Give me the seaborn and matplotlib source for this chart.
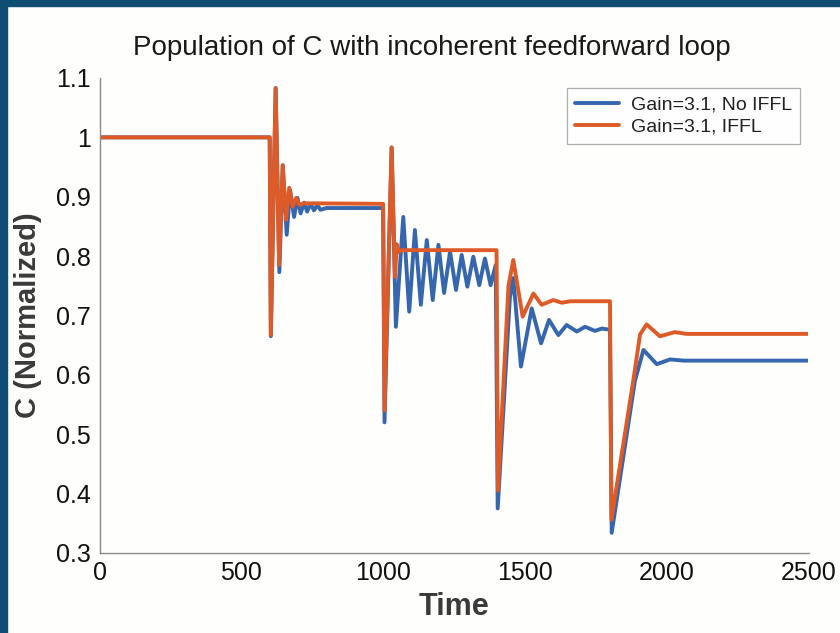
import numpy as np
import pandas as pd
import matplotlib
matplotlib.use("Agg")
import matplotlib.pyplot as plt
from matplotlib.patches import Rectangle
import seaborn as sns

# ---------------- data ----------------
t_no_iffl = [0, 600, 604, 621, 634, 646, 660, 672, 686, 698, 709, 721, 732, 744,
             756, 768, 779, 800, 1000, 1005, 1030, 1045, 1071, 1092, 1112, 1133,
             1154, 1175, 1195, 1215, 1236, 1257, 1277, 1297, 1318, 1339, 1359,
             1379, 1397, 1404, 1447, 1459, 1486, 1524, 1557, 1585, 1618, 1647,
             1683, 1712, 1747, 1771, 1800, 1806, 1888, 1918, 1965, 2012, 2060, 2500]
c_no_iffl = [1.0, 1.0, 0.665, 1.083, 0.773, 0.953, 0.836, 0.911, 0.866, 0.898,
             0.872, 0.890, 0.875, 0.888, 0.877, 0.886, 0.878, 0.881, 0.881, 0.520,
             0.983, 0.681, 0.866, 0.7065, 0.844, 0.718, 0.827, 0.726, 0.819, 0.738,
             0.8075, 0.743, 0.802, 0.7485, 0.799, 0.751, 0.796, 0.751, 0.785, 0.375,
             0.73, 0.763, 0.614, 0.712, 0.653, 0.6925, 0.667, 0.684, 0.673, 0.681,
             0.674, 0.678, 0.676, 0.334, 0.59, 0.642, 0.618, 0.626, 0.624, 0.624]

t_iffl = [0, 600, 604, 621, 633, 646, 658, 669, 681, 693, 705, 720, 1000, 1005,
          1030, 1042, 1048, 1055, 1065, 1400, 1405, 1442, 1459, 1492, 1530, 1559,
          1600, 1630, 1660, 1800, 1805, 1882, 1906, 1929, 1976, 2029, 2070, 2500]
c_iffl = [1.0, 1.0, 0.667, 1.083, 0.785, 0.953, 0.861, 0.915, 0.883, 0.898, 0.886,
          0.889, 0.888, 0.540, 0.983, 0.765, 0.820, 0.807, 0.810, 0.810, 0.405,
          0.750, 0.7935, 0.698, 0.737, 0.718, 0.726, 0.7215, 0.724, 0.724, 0.356,
          0.590, 0.668, 0.685, 0.665, 0.672, 0.669, 0.669]

series_names = ["Gain=3.1, No IFFL", "Gain=3.1, IFFL"]
x_ticks = [0, 500, 1000, 1500, 2000, 2500]
x_tick_labels = ["0", "500", "1000", "1500", "2000", "2500"]
y_ticks = [0.3, 0.4, 0.5, 0.6, 0.7, 0.8, 0.9, 1.0, 1.1]
y_tick_labels = ["0.3", "0.4", "0.5", "0.6", "0.7", "0.8", "0.9", "1", "1.1"]

df = pd.concat([
    pd.DataFrame({"Time": t_no_iffl, "C": c_no_iffl, "series": series_names[0]}),
    pd.DataFrame({"Time": t_iffl, "C": c_iffl, "series": series_names[1]}),
], ignore_index=True)

# ---------------- style ----------------
sns.set_theme(style="white")
plt.rcParams["font.family"] = ["Liberation Sans", "DejaVu Sans"]

palette = {series_names[0]: "#3566ae", series_names[1]: "#de5a26"}

fig = plt.figure(figsize=(8.4, 6.33), dpi=100, facecolor="#fefefc")
ax = fig.add_axes([0.1185, 0.1264, 0.844, 0.7504])
ax.set_facecolor("#fefefc")

sns.lineplot(data=df, x="Time", y="C", hue="series", palette=palette,
             hue_order=series_names, estimator=None, sort=False,
             linewidth=2.8, ax=ax)

ax.set_xlim(0, 2500)
ax.set_ylim(0.3, 1.1)
ax.set_xticks(x_ticks)
ax.set_xticklabels(x_tick_labels)
ax.set_yticks(y_ticks)
ax.set_yticklabels(y_tick_labels)

for s in ["top", "right"]:
    ax.spines[s].set_visible(False)
for s in ["left", "bottom"]:
    ax.spines[s].set_color("#8a8a8a")
    ax.spines[s].set_linewidth(1.0)

ax.tick_params(axis="both", direction="in", length=6, width=0.9, color="#8a8a8a",
               labelsize=18, labelcolor="#111111", pad=6)

ax.set_xlabel("Time", fontsize=22, fontweight="bold", color="#3a3a3a", labelpad=5)
ax.set_ylabel("C (Normalized)", fontsize=21, fontweight="bold", color="#3a3a3a",
              labelpad=10)
fig.text(0.514, 0.924, "Population of C with incoherent feedforward loop",
         fontsize=20, color="#1a1a1a", ha="center", va="center")

leg = ax.legend(loc="upper right", bbox_to_anchor=(0.988, 0.979), borderaxespad=0,
                fontsize=14, frameon=True, fancybox=False, handlelength=2.3,
                labelspacing=0.25, borderpad=0.4, handletextpad=0.6)
leg.get_frame().set_edgecolor("#9a9a9a")
leg.get_frame().set_linewidth(0.9)
for txt in leg.get_texts():
    txt.set_color("#222222")

# dark blue frame bands at top and left
fig.patches.append(Rectangle((0, 1 - 6 / 633), 1, 6 / 633, transform=fig.transFigure,
                             color="#0f4d73", zorder=10))
fig.patches.append(Rectangle((0, 0), 6.5 / 840, 1, transform=fig.transFigure,
                             color="#0f4d73", zorder=10))

fig.savefig("out.png", dpi=100, facecolor=fig.get_facecolor())
